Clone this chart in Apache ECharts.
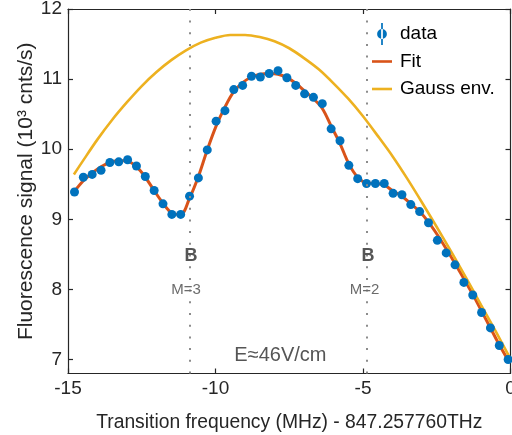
<!DOCTYPE html>
<html>
<head>
<meta charset="utf-8">
<script src="https://cdn.jsdelivr.net/npm/echarts@6/dist/echarts.min.js"></script>
<style>html,body{margin:0;padding:0;background:#fff}#c{width:512px;height:435px}</style>
</head>
<body>
<div id="c"></div>
<script>
// ---- data ----
const dataX = [-14.78,-14.48,-14.18,-13.88,-13.58,-13.28,-12.98,-12.68,-12.38,-12.08,
  -11.78,-11.48,-11.18,-10.88,-10.58,-10.28,-9.98,-9.68,-9.38,-9.08,
  -8.78,-8.48,-8.18,-7.88,-7.58,-7.28,-6.98,-6.68,-6.38,-6.08,
  -5.78,-5.48,-5.18,-4.88,-4.58,-4.28,-3.98,-3.68,-3.38,-3.08,
  -2.78,-2.48,-2.18,-1.88,-1.58,-1.28,-0.98,-0.68,-0.38,-0.08];
const dataY = [9.39,9.60,9.64,9.70,9.81,9.82,9.85,9.76,9.61,9.41,
  9.22,9.07,9.07,9.33,9.59,9.99,10.40,10.55,10.85,10.91,
  11.04,11.03,11.08,11.12,11.02,10.91,10.79,10.74,10.65,10.29,
  10.12,9.77,9.58,9.51,9.51,9.51,9.37,9.35,9.21,9.11,
  8.95,8.70,8.52,8.35,8.10,7.92,7.67,7.45,7.20,7.00];
const fitY = [9.40,9.55,9.66,9.75,9.81,9.84,9.83,9.75,9.60,9.41,
  9.23,9.09,9.07,9.30,9.61,9.99,10.33,10.60,10.82,10.95,
  11.03,11.07,11.08,11.07,11.02,10.94,10.83,10.72,10.58,10.33,
  10.08,9.79,9.60,9.52,9.51,9.49,9.40,9.33,9.22,9.11,
  8.96,8.78,8.58,8.37,8.15,7.93,7.69,7.45,7.21,6.99];
const gaussX = [-14.8,-14.5,-14,-13.5,-13,-12.5,-12,-11.5,-11,-10.5,-10,-9.5,-9,-8.5,-8,
  -7.5,-7,-6.5,-6,-5.5,-5,-4.5,-4,-3.5,-3,-2.5,-2,-1.5,-1,-0.5,0];
const gaussY = [9.64,9.83,10.14,10.42,10.67,10.90,11.10,11.27,11.41,11.52,11.59,11.63,11.63,11.60,11.54,
  11.44,11.30,11.14,10.94,10.72,10.47,10.19,9.90,9.58,9.24,8.89,8.53,8.16,7.78,7.40,7.01];
const xTicks = [-15,-10,-5,0];
const yTicks = [7,8,9,10,11,12];
const markerX = [-10.88,-4.86];
const annotations = [
  {x:-10.83, y:8.47, text:'B', kind:'b'},
  {x:-11.0, y:8.0, text:'M=3', kind:'m'},
  {x:-4.83, y:8.47, text:'B', kind:'b'},
  {x:-4.95, y:8.0, text:'M=2', kind:'m'},
  {x:-7.8, y:7.06, text:'E≈46V/cm', kind:'e'}
];

const FONT = 'Liberation Sans, Arial, sans-serif';
const AX = '#262626';
const pair = (xs, ys) => xs.map((x, i) => [x, ys[i]]);

const chart = echarts.init(document.getElementById('c'), null, {renderer: 'canvas'});

const baseX = {
  type: 'value', min: -15, max: 0, interval: 5,
  axisLine: {show: true, onZero: false, lineStyle: {color: AX, width: 1.2}},
  axisTick: {show: true, inside: true, length: 5, lineStyle: {color: AX, width: 1.2}},
  splitLine: {show: false}
};
const baseY = {
  type: 'value', min: 6.8, max: 12,
  axisLine: {show: true, onZero: false, lineStyle: {color: AX, width: 1.2}},
  axisTick: {show: true, inside: true, length: 5, customValues: yTicks, lineStyle: {color: AX, width: 1.2}},
  splitLine: {show: false}
};
const LINE_ICON = 'path://M0,0H20V2.6H0Z';

const option = {
  animation: false,
  backgroundColor: '#fff',
  grid: {left: 68, right: 1.5, top: 9, bottom: 61.5, containLabel: false, outerBoundsMode: 'none'},
  xAxis: [
    Object.assign({}, baseX, {
      position: 'bottom',
      axisLabel: {show: true, color: AX, fontFamily: FONT, fontSize: 19, margin: 6,
        customValues: xTicks, hideOverlap: false},
      name: 'Transition frequency (MHz) - 847.257760THz',
      nameLocation: 'middle', nameGap: 40, nameMoveOverlap: false,
      nameTextStyle: {color: AX, fontFamily: FONT, fontSize: 19.3}
    }),
    Object.assign({}, baseX, {position: 'top', axisLabel: {show: false}})
  ],
  yAxis: [
    Object.assign({}, baseY, {
      position: 'left',
      axisLabel: {show: true, color: AX, fontFamily: FONT, fontSize: 19, margin: 6,
        customValues: yTicks},
      name: 'Fluorescence signal (10³ cnts/s)',
      nameLocation: 'middle', nameGap: 31, nameMoveOverlap: false,
      nameTextStyle: {color: AX, fontFamily: FONT, fontSize: 21}
    }),
    Object.assign({}, baseY, {position: 'right', axisLabel: {show: false}})
  ],
  legend: {
    orient: 'vertical', left: 372, top: 23, padding: 0,
    itemWidth: 20, itemHeight: 22, itemGap: 5.5,
    textStyle: {color: '#000', fontFamily: FONT, fontSize: 19, lineHeight: 22, padding: [0,0,0,3]},
    data: [
      {name: 'data', icon: 'path://M4.3,0H5.7V18H4.3Z M1,9A4,4 0 1,0 9,9A4,4 0 1,0 1,9Z'},
      {name: 'Fit', icon: LINE_ICON},
      {name: 'Gauss env.', icon: LINE_ICON}
    ]
  },
  series: [
    {
      name: 'Fit', type: 'line', data: pair(dataX, fitY), smooth: 0.35,
      symbol: 'none', showSymbol: false, z: 2,
      lineStyle: {color: '#D95319', width: 3}, itemStyle: {color: '#D95319'},
      markLine: {
        silent: true, symbol: ['none','none'], label: {show: false},
        lineStyle: {color: '#8c8c8c', type: [2, 9.7], width: 2},
        data: markerX.map(v => ({xAxis: v}))
      },
      markPoint: {
        silent: true, symbol: 'rect', symbolSize: 1, itemStyle: {color: 'rgba(0,0,0,0)'},
        data: annotations.map(a => ({
          coord: [a.x, a.y], value: a.text,
          label: {
            show: true, position: 'inside', formatter: a.text, fontFamily: FONT,
            color: a.kind === 'm' ? '#6b6b6b' : '#555',
            fontWeight: a.kind === 'b' ? 'bold' : 'normal',
            fontSize: a.kind === 'b' ? 18 : (a.kind === 'm' ? 15 : 20)
          }
        }))
      }
    },
    {
      name: 'Gauss env.', type: 'line', data: pair(gaussX, gaussY), smooth: 0.3,
      symbol: 'none', showSymbol: false, z: 3,
      lineStyle: {color: '#EDB120', width: 2.6}, itemStyle: {color: '#EDB120'}
    },
    {
      name: 'data', type: 'scatter', data: pair(dataX, dataY),
      symbol: 'circle', symbolSize: 9, z: 4,
      itemStyle: {color: '#0072BD', opacity: 1}
    }
  ]
};
chart.setOption(option);
</script>
</body>
</html>
